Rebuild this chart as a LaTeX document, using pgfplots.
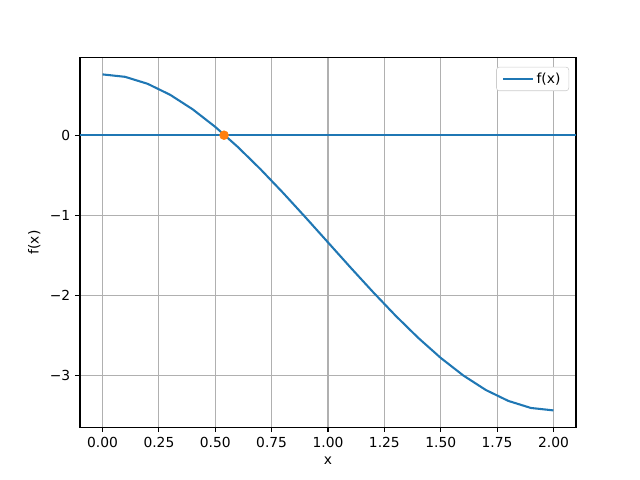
\documentclass[border=0pt]{standalone}
\usepackage{pgfplots}
\pgfplotsset{compat=1.18}
\usepackage{fontspec}
\setmainfont{DejaVu Sans}
\definecolor{C0}{HTML}{1F77B4}
\definecolor{C1}{HTML}{FF7F0E}
\definecolor{gridc}{HTML}{B0B0B0}
\definecolor{legc}{HTML}{CCCCCC}
\begin{document}
\begin{tikzpicture}
\begin{axis}[
  at={(0,0)}, anchor=south west,
  scale only axis, width=4.96in, height=3.696in,
  xmin=-0.1, xmax=2.1, ymin=-3.65, ymax=0.97,
  xtick={0,0.25,0.5,0.75,1,1.25,1.5,1.75,2},
  xticklabels={0.00,0.25,0.50,0.75,1.00,1.25,1.50,1.75,2.00},
  ytick={-3,-2,-1,0},
  yticklabels={−3,−2,−1,0},
  tick align=outside, xtick pos=bottom, ytick pos=left,
  major tick length=3.5pt,
  every tick/.style={black, line width=0.8pt},
  axis line style={line width=0.8pt},
  grid=major,
  major grid style={gridc, line width=0.8pt},
  tick label style={font=\fontsize{10}{12}\selectfont},
  label style={font=\fontsize{10}{12}\selectfont},
  xlabel={x}, ylabel={f(x)},
  legend style={at={(0.986,0.975)}, anchor=north east, draw=legc, rounded corners=2pt,
    font=\fontsize{10}{12}\selectfont, inner xsep=4pt, inner ysep=2pt},
  legend cell align=left,
  legend image code/.code={\draw[#1] (0pt,0pt) -- (21.5pt,0pt);},
]
\addplot[C0, line width=1.5pt] coordinates {
(0.0,0.7600) (0.1,0.7296) (0.2,0.6424) (0.3,0.5049) (0.4,0.3232) (0.5,0.1038)
(0.6,-0.1472) (0.7,-0.4234) (0.8,-0.7184) (0.9,-1.0261) (1.0,-1.3400)
(1.1,-1.6540) (1.2,-1.9616) (1.3,-2.2567) (1.4,-2.5328) (1.5,-2.7838)
(1.6,-3.0032) (1.7,-3.1849) (1.8,-3.3216) (1.9,-3.4096) (2.0,-3.4400)
};
\addlegendentry{f(x)}
\addplot[C0, line width=1.5pt, forget plot] coordinates {(-0.1,0) (2.1,0)};
\addplot[only marks, mark=*, mark size=3.2pt, color=C1, forget plot] coordinates {(0.539,0)};
\end{axis}
\useasboundingbox (-0.8in,-0.528in) rectangle (5.6in,4.272in);
\end{tikzpicture}
\end{document}
